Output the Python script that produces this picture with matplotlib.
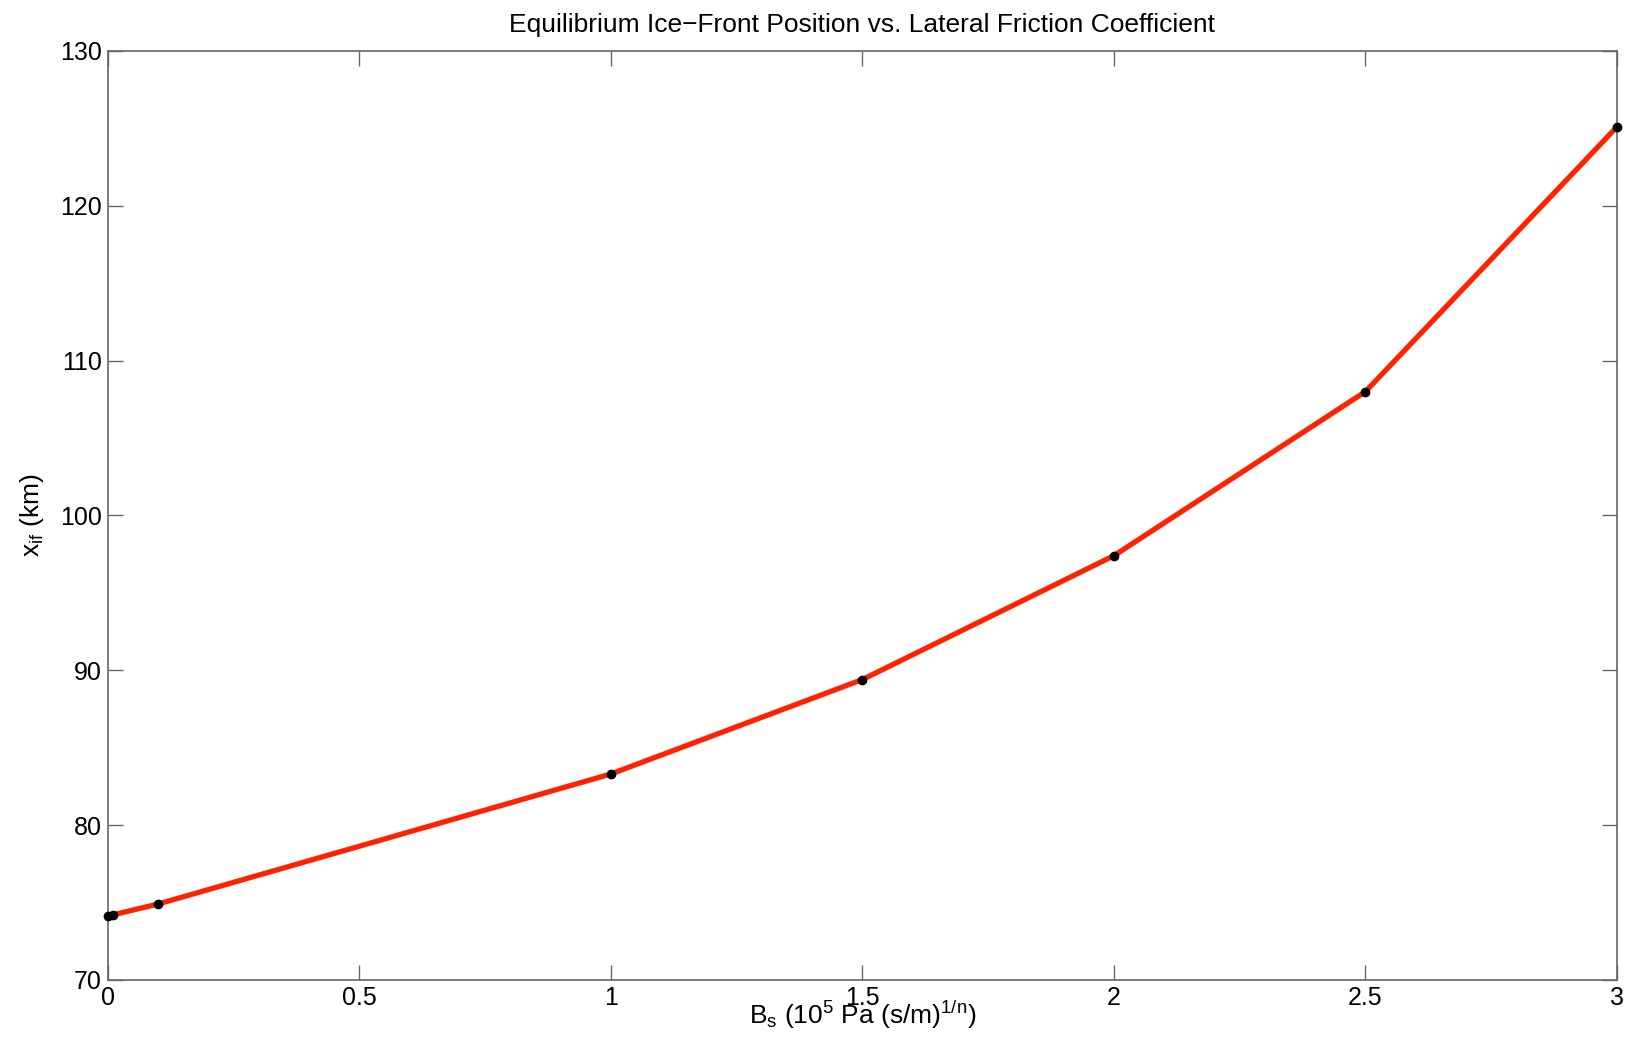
import numpy as np
import matplotlib
matplotlib.use("Agg")
import matplotlib.pyplot as plt

# lateral friction coefficient B_s and equilibrium ice-front position (km)
bs = [0.0, 0.01, 0.1, 1.0, 1.5, 2.0, 2.5, 3.0]
x_if = [74.1, 74.2, 74.9, 83.3, 89.4, 97.4, 108.0, 125.1]

xticks = [0, 0.5, 1, 1.5, 2, 2.5, 3]
xticklabels = ["0", "0.5", "1", "1.5", "2", "2.5", "3"]
yticks = [70, 80, 90, 100, 110, 120, 130]

plt.rcParams['font.family'] = ['Liberation Sans', 'DejaVu Sans']
plt.rcParams['mathtext.fontset'] = 'custom'
plt.rcParams['mathtext.rm'] = 'Liberation Sans'
plt.rcParams['mathtext.it'] = 'Liberation Sans'

fig = plt.figure(figsize=(16.34, 10.49), dpi=100)
ax = fig.add_axes([0.0658, 0.0658, 0.9238, 0.8856])

ax.plot(bs, x_if, color="#ff2200", lw=3.8, zorder=2)
ax.plot(bs, x_if, "o", color="black", ms=6, zorder=3, clip_on=False)

ax.set_xlim(0, 3)
ax.set_ylim(70, 130)
ax.set_xticks(xticks)
ax.set_xticklabels(xticklabels)
ax.set_yticks(yticks)

for s in ax.spines.values():
    s.set_color("#666666")
    s.set_linewidth(1.2)
ax.tick_params(direction="in", length=11, width=1.0, color="#666666",
               labelsize=18, top=True, right=True, pad=4)

ax.set_title("Equilibrium Ice\u2212Front Position vs. Lateral Friction Coefficient",
             fontsize=19, pad=14)
ax.set_xlabel(r"B$_\mathrm{s}$ (10$^5$ Pa (s/m)$^{1/n}$)", fontsize=19, labelpad=-8)
ax.set_ylabel(r"x$_\mathrm{if}$ (km)", fontsize=19, labelpad=10)

fig.savefig("out.png", dpi=100)
